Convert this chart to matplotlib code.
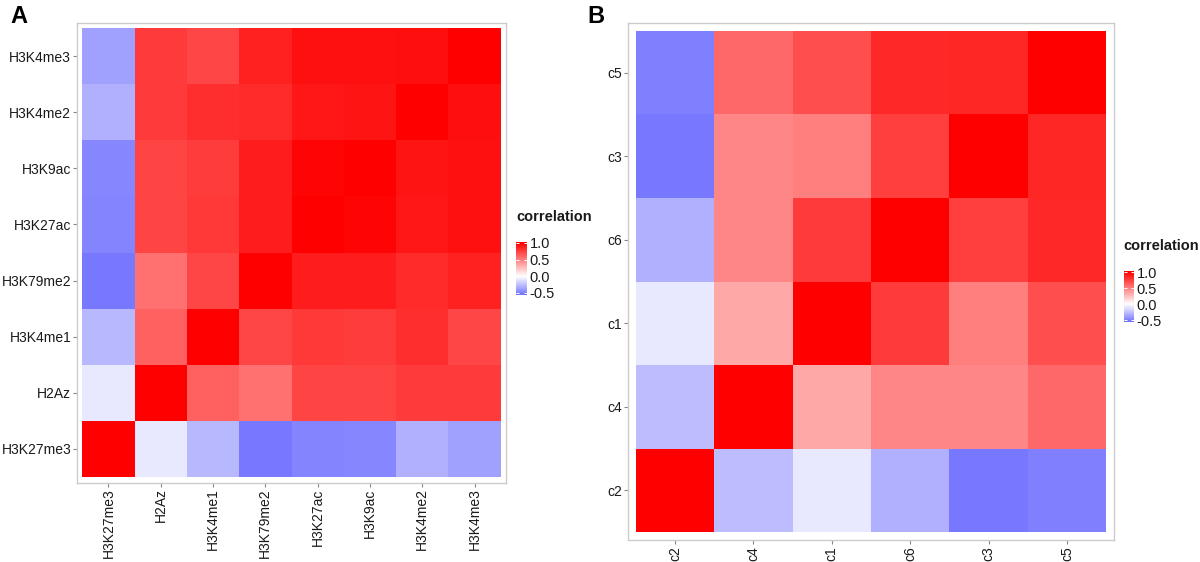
import numpy as np
import matplotlib
matplotlib.use("Agg")
import matplotlib.pyplot as plt
from matplotlib.colors import LinearSegmentedColormap, Normalize

plt.rcParams['font.family'] = ['Liberation Sans', 'DejaVu Sans']

# ---- data ----
labels_a = ["H3K27me3", "H2Az", "H3K4me1", "H3K79me2", "H3K27ac", "H3K9ac", "H3K4me2", "H3K4me3"]
corr_a = [
    [1.00, -0.09, -0.28, -0.53, -0.48, -0.47, -0.31, -0.37],
    [-0.09, 1.00, 0.62, 0.56, 0.73, 0.73, 0.77, 0.77],
    [-0.28, 0.62, 1.00, 0.72, 0.78, 0.76, 0.82, 0.72],
    [-0.53, 0.56, 0.72, 1.00, 0.89, 0.89, 0.83, 0.87],
    [-0.48, 0.73, 0.78, 0.89, 1.00, 0.98, 0.91, 0.93],
    [-0.47, 0.73, 0.76, 0.89, 0.98, 1.00, 0.92, 0.93],
    [-0.31, 0.77, 0.82, 0.83, 0.91, 0.92, 1.00, 0.94],
    [-0.37, 0.77, 0.72, 0.87, 0.93, 0.93, 0.94, 1.00],
]
labels_b = ["c2", "c4", "c1", "c6", "c3", "c5"]
corr_b = [
    [1.00, -0.26, -0.09, -0.31, -0.53, -0.50],
    [-0.26, 1.00, 0.34, 0.47, 0.47, 0.59],
    [-0.09, 0.34, 1.00, 0.77, 0.50, 0.69],
    [-0.31, 0.47, 0.77, 1.00, 0.75, 0.84],
    [-0.53, 0.47, 0.50, 0.75, 1.00, 0.85],
    [-0.50, 0.59, 0.69, 0.84, 0.85, 1.00],
]
legend_ticks = [1.0, 0.5, 0.0, -0.5]
legend_title = "correlation"

cmap = LinearSegmentedColormap.from_list("bwr2", ["#0000ff", "#ffffff", "#ff0000"])
norm = Normalize(vmin=-1, vmax=1)

fig = plt.figure(figsize=(12, 5.62), dpi=100)

TXT = "#1a1a1a"
FS = 10


def heat(ax, labels, mat):
    m = np.array(mat)
    n = len(labels)
    ax.pcolormesh(np.arange(n + 1) - 0.5, np.arange(n + 1) - 0.5, m,
                  cmap=cmap, norm=norm, shading="flat", edgecolors="none")
    ax.set_xlim(-0.6, n - 0.4)
    ax.set_ylim(-0.6, n - 0.4)
    ax.set_xticks(range(n))
    ax.set_yticks(range(n))
    ax.set_xticklabels(labels, rotation=90, fontsize=FS, color=TXT)
    ax.set_yticklabels(labels, fontsize=FS, color=TXT)
    ax.tick_params(length=3.0, width=0.8, color="#888888", pad=1.2)
    for s in ax.spines.values():
        s.set_color("#cccccc")
        s.set_linewidth(1.0)


def legend(cax, title_xy):
    sm = matplotlib.cm.ScalarMappable(norm=norm, cmap=cmap)
    cb = fig.colorbar(sm, cax=cax, boundaries=np.linspace(-0.56, 1.02, 200))
    cb.outline.set_visible(False)
    cb.set_ticks(legend_ticks)
    cb.set_ticklabels([f"{t:.1f}" for t in legend_ticks])
    cax.tick_params(axis="y", which="both", left=True, right=True, direction="in",
                    length=2.2, width=0.7, color="white", labelsize=10.5, labelcolor=TXT, pad=2)
    fig.text(title_xy[0], title_xy[1], legend_title, fontsize=10.5, fontweight="bold",
             color=TXT, ha="left", va="center")


# Panel A
axA = fig.add_axes([77 / 1200, (562 - 482.5) / 562, 429 / 1200, 460 / 562])
heat(axA, labels_a, corr_a)
caxA = fig.add_axes([516 / 1200, (562 - 295) / 562, 11 / 1200, 52.7 / 562])
legend(caxA, (516 / 1200, 1 - 217 / 562))

# Panel B
axB = fig.add_axes([628 / 1200, (562 - 540.4) / 562, 486 / 1200, 517.8 / 562])
heat(axB, labels_b, corr_b)
caxB = fig.add_axes([1124 / 1200, (562 - 322) / 562, 10 / 1200, 50.6 / 562])
legend(caxB, (1123 / 1200, 1 - 246 / 562))

fig.text(10 / 1200, 1 - 23 / 562, "A", fontsize=17, fontweight="bold", ha="left", va="baseline")
fig.text(587 / 1200, 1 - 23 / 562, "B", fontsize=17, fontweight="bold", ha="left", va="baseline")

fig.savefig("out.png", dpi=100, facecolor="white")
